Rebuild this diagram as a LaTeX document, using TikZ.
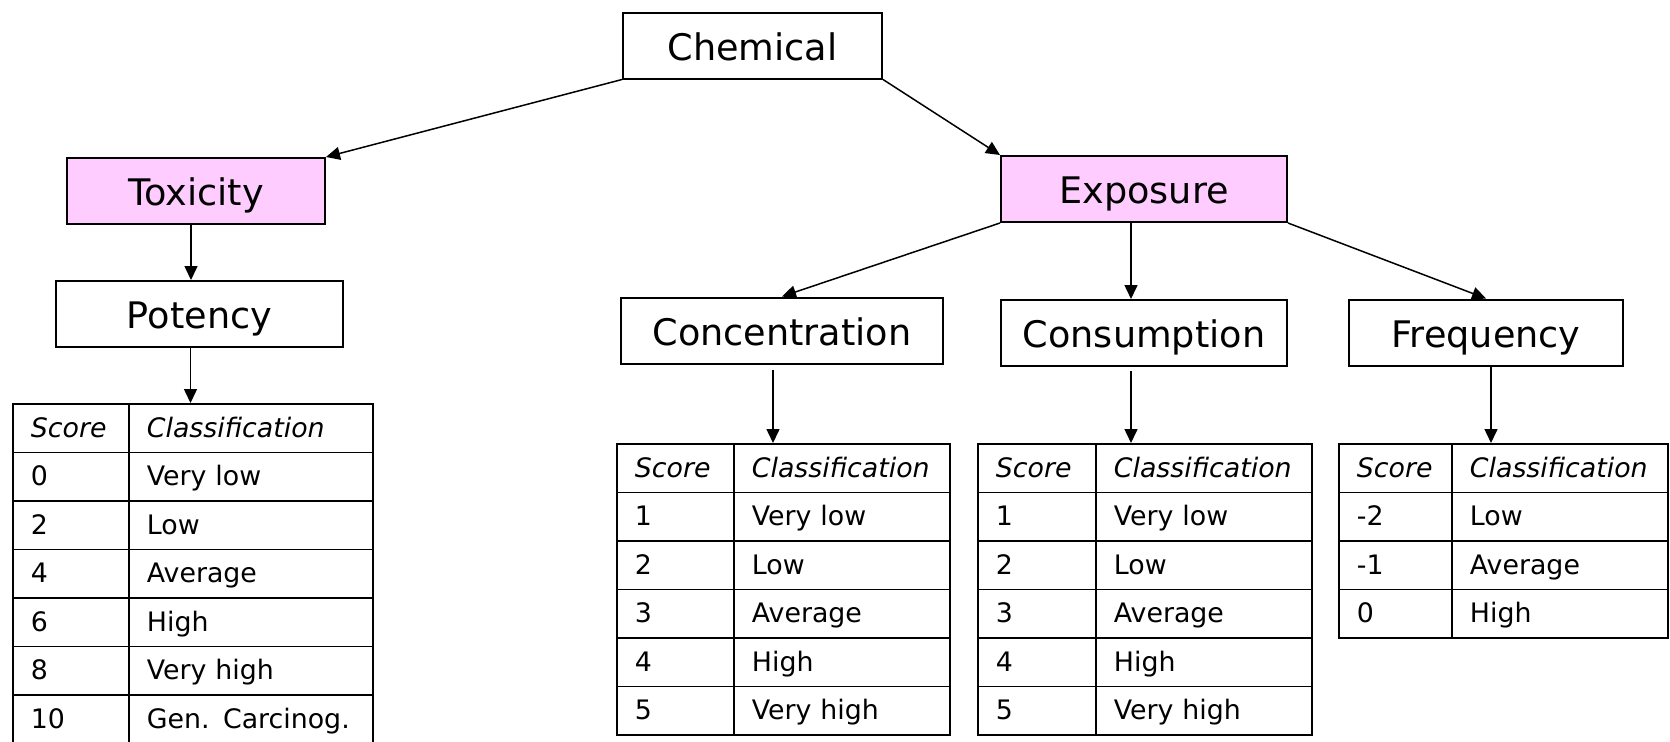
\documentclass[tikz,border=0pt]{standalone}
\usepackage{fontspec}
\setmainfont{DejaVu Sans}
\usepackage{xcolor}
\definecolor{TabPink}{RGB}{255,204,255}
\usetikzlibrary{positioning}
\usetikzlibrary{calc}
\usetikzlibrary{arrows.meta}

\begin{document}
\begin{tikzpicture}[
    x = 0.5pt, y = -0.5pt
    , box/.style = {
      , rectangle
      , draw = black
      , line width = 1pt
      , minimum height = 33pt
      , inner sep = 0pt
      , text height = 14.5pt
      , text depth = 0pt
      , font = \fontsize{18.3}{22}\selectfont
    }
    , hazard/.style = {
      box,
      fill = TabPink
    }
    , cell/.style = {
      , rectangle
      , draw = black
      , line width = 0.9pt
      , anchor = north west
      , minimum height = 24.25pt
      , inner xsep = 9pt
      , inner ysep = 0pt
      , text height = 10.5pt
      , text depth = 1.5pt
      , align = left
      , font = \fontsize{13.4}{16}\selectfont
    }
    , head/.style = {
      cell,
      font = \fontsize{13.4}{16}\selectfont\itshape
    }
    , arr/.style = {
      , ->
      , >={Triangle[length=7pt, width=6.5pt]}
      , line width = 0.75pt
    }
  ]
  \useasboundingbox (0,0) rectangle (1670,741);

  \def\rowh{48.5}

  \node[box, minimum width=129.5pt] (chem) at (752.5,45.5) {Chemical};
  \node[hazard, minimum width=129pt] (tox) at (196,191) {Toxicity};
  \node[hazard, minimum width=143pt] (expo) at (1144,189) {Exposure};
  \node[box, minimum width=143.5pt] (pot) at (199.5,314) {Potency};
  \node[box, minimum width=161pt] (conc) at (782,330.5) {Concentration};
  \node[box, minimum width=143pt, below = 38pt of expo] (cons) {Consumption};
  \node[box, minimum width=137pt] (freq) at (1486,332.5) {Frequency};

  % potency scores
  \node[head, text width=40pt] (pot-h1) at (12,403) {Score};
  \node[head, text width=104pt] (pot-h2) at (128,403) {Classification};
  \foreach \s/\c [count=\i] in {0/Very low, 2/Low, 4/Average, 6/High, 8/Very high, 10/Gen. Carcinog.}
  {
    \node[cell, text width=40pt] (pot-s\i) at (12,{403+\rowh*\i}) {\s};
    \node[cell, text width=104pt] (pot-c\i) at (128,{403+\rowh*\i}) {\c};
  }

  % concentration scores
  \node[head, text width=40.5pt] (conc-h1) at (616,443) {Score};
  \node[head, text width=90pt] (conc-h2) at (733,443) {Classification};
  \foreach \s/\c [count=\i] in {1/Very low, 2/Low, 3/Average, 4/High, 5/Very high}
  {
    \node[cell, text width=40.5pt] (conc-s\i) at (616,{443+\rowh*\i}) {\s};
    \node[cell, text width=90pt] (conc-c\i) at (733,{443+\rowh*\i}) {\c};
  }

  % consumption scores
  \node[head, text width=41pt] (cons-h1) at (977,443) {Score};
  \node[head, text width=90pt] (cons-h2) at (1095,443) {Classification};
  \foreach \s/\c [count=\i] in {1/Very low, 2/Low, 3/Average, 4/High, 5/Very high}
  {
    \node[cell, text width=41pt] (cons-s\i) at (977,{443+\rowh*\i}) {\s};
    \node[cell, text width=90pt] (cons-c\i) at (1095,{443+\rowh*\i}) {\c};
  }

  % frequency scores
  \node[head, text width=38.5pt] (freq-h1) at (1338,443) {Score};
  \node[head, text width=90pt] (freq-h2) at (1451,443) {Classification};
  \foreach \s/\c [count=\i] in {-2/Low, -1/Average, 0/High}
  {
    \node[cell, text width=38.5pt] (freq-s\i) at (1338,{443+\rowh*\i}) {\s};
    \node[cell, text width=90pt] (freq-c\i) at (1451,{443+\rowh*\i}) {\c};
  }

  \coordinate (tox-out) at ($ (tox.south) + (-5,0) $);
  \coordinate (pot-out) at ($ (pot.south) + (-9,0) $);
  \coordinate (expo-out) at ($ (expo.south) + (-13,0) $);
  \coordinate (conc-out) at ($ (conc.south) + (-9,5) $);
  \coordinate (cons-out) at ($ (cons.south) + (-13,4) $);
  \coordinate (freq-out) at ($ (freq.south) + (5,0) $);

  \draw[arr] (chem.south west) -- (tox.north east);
  \draw[arr] (chem.south east) -- (expo.north west);
  \draw[arr] (tox-out) -- (tox-out |- pot.north);
  \draw[arr] (pot-out) -- (pot-out |- pot-h2.north);

  \draw[arr] (expo.south west) -- (conc.north);
  \draw[arr] (expo-out) -- (expo-out |- cons.north);
  \draw[arr] (expo.south east) -- (freq.north);

  \draw[arr] (conc-out) -- (conc-out |- conc-h2.north);
  \draw[arr] (cons-out) -- (cons-out |- cons-h2.north);
  \draw[arr] (freq-out) -- (freq-out |- freq-h2.north);
\end{tikzpicture}
\end{document}
